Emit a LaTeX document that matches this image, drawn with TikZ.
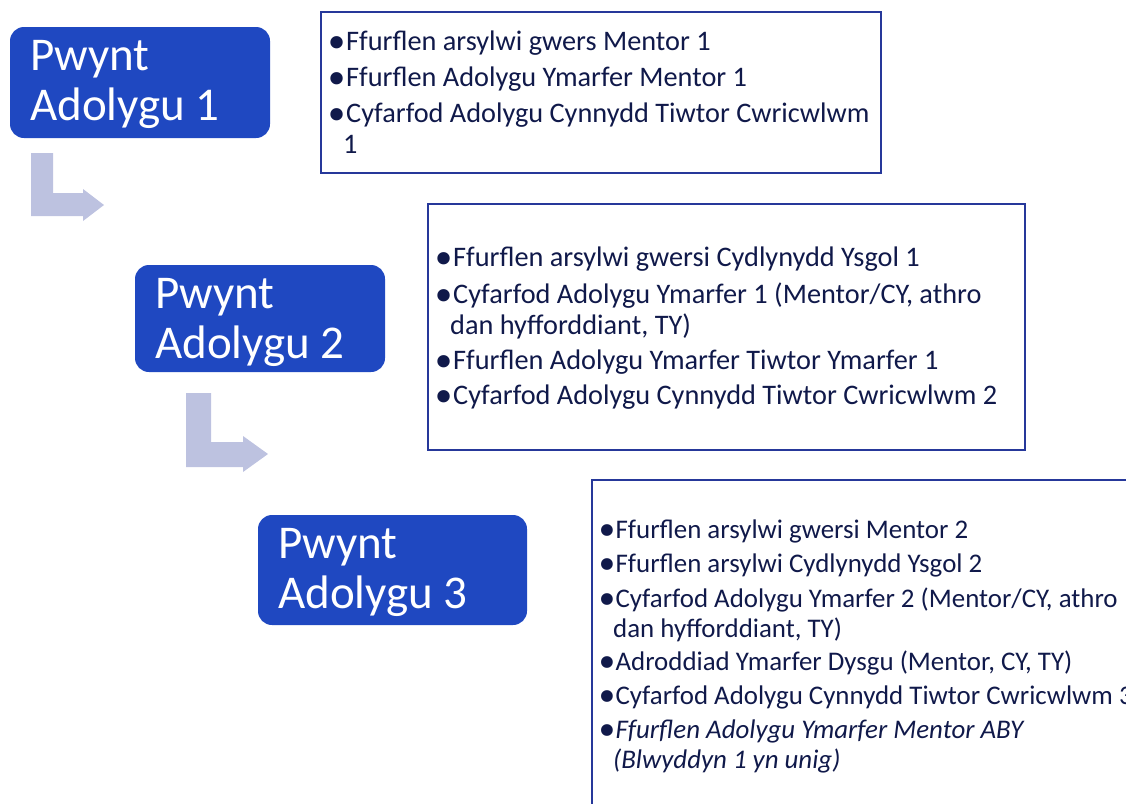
\documentclass[tikz,border=0pt]{standalone}
\usepackage{fontspec}
\usepackage{graphicx}
\setmainfont{Carlito}
\newfontfamily\bulletfont{DejaVu Sans}
\newcommand{\bul}{\makebox[0.29em][c]{\raisebox{-0.29em}[0.45em][0pt]{\scalebox{1.5}{\bulletfont •}}}\hspace{0.17em}}
\definecolor{pblue}{HTML}{1F48C1}
\definecolor{pborder}{HTML}{26389A}
\definecolor{ptext}{HTML}{10194A}
\definecolor{parrow}{HTML}{BDC2E0}
\tikzset{
  pointbox/.style={fill=pblue, draw=none, rounded corners=14pt, inner sep=0pt},
  pointtxt/.style={anchor=base west, inner sep=0pt, text=white, font=\fontsize{47}{50}\selectfont},
  listbox/.style={draw=pborder, line width=2pt, inner sep=0pt},
  item/.style={anchor=base west, inner sep=0pt, text=ptext, font=\fontsize{28.3}{32}\selectfont},
  itemsm/.style={anchor=base west, inner sep=0pt, text=ptext, font=\fontsize{26.9}{32}\selectfont},
  bendarrow/.style={fill=parrow, draw=none}
}
\begin{document}
\begin{tikzpicture}[x=1pt,y=-1pt]
\useasboundingbox (0,0) rectangle (1126,803);
\begin{scope}
\clip (0,0) rectangle (1126,803);
% blue point boxes
\node[pointbox, minimum width=260pt, minimum height=111pt] (p1) at (140,82.5) {};
\node[pointtxt] (p1a) at (30,70) {Pwynt};
\node[pointtxt] (p1b) at (30,120) {Adolygu 1};
\node[pointbox, minimum width=250pt, minimum height=107pt] (p2) at (260,318.5) {};
\node[pointtxt] (p2a) at (155,308) {Pwynt};
\node[pointtxt] (p2b) at (155,358) {Adolygu 2};
\node[pointbox, minimum width=269pt, minimum height=110pt] (p3) at (392.5,570) {};
\node[pointtxt] (p3a) at (278,558) {Pwynt};
\node[pointtxt] (p3b) at (278,608) {Adolygu 3};
% bent arrows
\fill[bendarrow] (31,153) -- (53,153) -- (53,193) -- (83,193) -- (83,189) -- (104,205) -- (83,221) -- (83,216) -- (31,216) -- cycle;
\fill[bendarrow] (186,393) -- (211,393) -- (211,442) -- (243,442) -- (243,436) -- (268,454) -- (243,472) -- (243,467) -- (186,467) -- cycle;
% list boxes
\node[listbox, minimum width=560pt, minimum height=161pt] (b1) at (601,92.5) {};
\node[listbox, minimum width=597pt, minimum height=246pt] (b2) at (726.5,327) {};
\draw[pborder, line width=2pt] (1140,480) -- (592,480) -- (592,820);
\coordinate (b3) at (592,480);
% box 1 items
\node[item] (t11) at (333,50) {\bul Ffurflen arsylwi gwers Mentor 1};
\node[item] (t12) at (333,86) {\bul Ffurflen Adolygu Ymarfer Mentor 1};
\node[item] (t13) at (333,122) {\bul Cyfarfod Adolygu Cynnydd Tiwtor Cwricwlwm};
\node[item] (t14) at (343,153) {1};
% box 2 items
\node[item] (t21) at (440,266) {\bul Ffurflen arsylwi gwersi Cydlynydd Ysgol 1};
\node[item] (t22) at (440,303) {\bul Cyfarfod Adolygu Ymarfer 1 (Mentor/CY, athro};
\node[item] (t23) at (450,334) {dan hyfforddiant, TY)};
\node[item] (t24) at (440,369) {\bul Ffurflen Adolygu Ymarfer Tiwtor Ymarfer 1};
\node[item] (t25) at (440,404) {\bul Cyfarfod Adolygu Cynnydd Tiwtor Cwricwlwm 2};
% box 3 items
\node[itemsm] (t31) at (603,538) {\bul Ffurflen arsylwi gwersi Mentor 2};
\node[itemsm] (t32) at (603,572) {\bul Ffurflen arsylwi Cydlynydd Ysgol 2};
\node[itemsm] (t33) at (603,607) {\bul Cyfarfod Adolygu Ymarfer 2 (Mentor/CY, athro};
\node[itemsm] (t34) at (613,637) {dan hyfforddiant, TY)};
\node[itemsm] (t35) at (603,670) {\bul Adroddiad Ymarfer Dysgu (Mentor, CY, TY)};
\node[itemsm] (t36) at (603,704) {\bul Cyfarfod Adolygu Cynnydd Tiwtor Cwricwlwm 3};
\node[itemsm] (t37) at (603,738) {\bul\textit{Ffurflen Adolygu Ymarfer Mentor ABY}};
\node[itemsm] (t38) at (613,768) {\textit{(Blwyddyn 1 yn unig)}};
\end{scope}
\end{tikzpicture}
\end{document}
